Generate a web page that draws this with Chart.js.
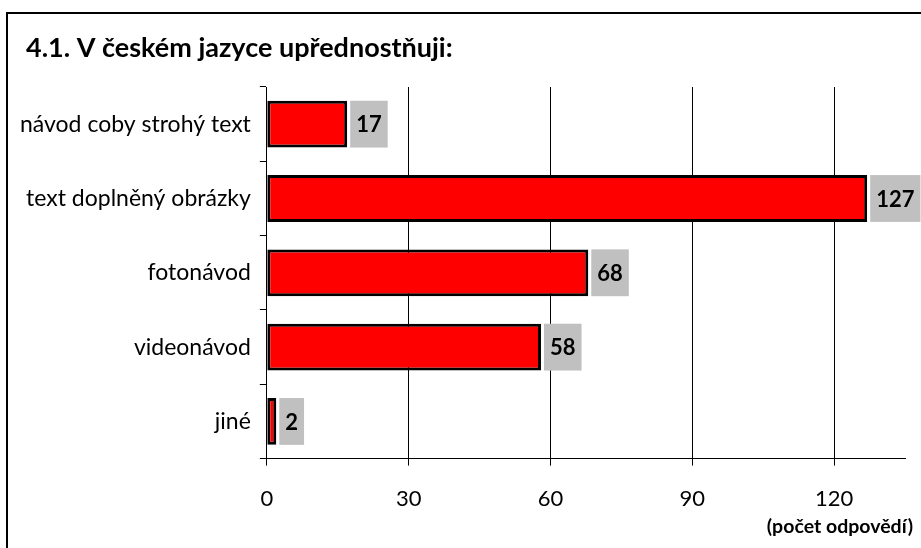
<!DOCTYPE html>
<html>
<head>
<meta charset="utf-8">
<script src="https://cdn.jsdelivr.net/npm/chart.js@4/dist/chart.umd.min.js"></script>
<style>
  html, body { margin: 0; padding: 0; background: #fff; }
  #wrap { width: 921px; height: 548px; position: relative; }
</style>
</head>
<body>
<div id="wrap"><canvas id="chart"></canvas></div>
<script>
// data
const categories = ['návod coby strohý text', 'text doplněný obrázky', 'fotonávod', 'videonávod', 'jiné'];
const answers = [17, 127, 68, 58, 2];
const xTicks = [0, 30, 60, 90, 120];

const titleText = '4.1. V českém jazyce upřednostňuji:';
const axisTitle = '(počet odpovědí)';
const fontFamily = 'Lato, "Open Sans", sans-serif';

// outer frame (only left and top edges are visible), chart title, axis title
const framePlugin = {
  id: 'frame',
  beforeDraw(chart) {
    const ctx = chart.ctx;
    ctx.save();
    ctx.fillStyle = '#fff';
    ctx.fillRect(0, 0, chart.width, chart.height);
    ctx.strokeStyle = '#000';
    ctx.lineWidth = 2;
    ctx.strokeRect(7, 13, chart.width + 20, chart.height + 20);
    ctx.fillStyle = '#000';
    ctx.textBaseline = 'middle';
    ctx.textAlign = 'left';
    ctx.font = 'bold 27px ' + fontFamily;
    ctx.fillText(titleText, 26, 48);
    ctx.textAlign = 'right';
    ctx.font = 'bold 19.5px ' + fontFamily;
    ctx.fillText(axisTitle, 913, 527);
    ctx.restore();
  }
};

// grey value boxes next to the bars
const valueBoxes = {
  id: 'valueBoxes',
  afterDatasetsDraw(chart) {
    const ctx = chart.ctx;
    const meta = chart.getDatasetMeta(0);
    ctx.save();
    ctx.font = 'bold 22px ' + fontFamily;
    ctx.textBaseline = 'middle';
    ctx.textAlign = 'left';
    meta.data.forEach((bar, i) => {
      const label = String(answers[i]);
      const w = ctx.measureText(label).width + 12;
      const h = bar.height;
      const x = bar.x + 3;
      ctx.fillStyle = '#c0c0c0';
      ctx.fillRect(x, bar.y - h / 2, w, h);
      ctx.fillStyle = '#000';
      ctx.fillText(label, x + 6, bar.y + 1);
    });
    ctx.restore();
  }
};

new Chart(document.getElementById('chart'), {
  type: 'bar',
  data: {
    labels: categories,
    datasets: [{
      data: answers,
      backgroundColor: '#ff0000',
      borderColor: '#000',
      borderWidth: 3,
      borderSkipped: false,
      barPercentage: 0.63,
      categoryPercentage: 1
    }]
  },
  options: {
    indexAxis: 'y',
    responsive: true,
    maintainAspectRatio: false,
    animation: false,
    layout: { padding: { left: 11, right: 16, top: 87, bottom: 16 } },
    plugins: {
      legend: { display: false },
      tooltip: { enabled: false },
      title: { display: false }
    },
    scales: {
      x: {
        min: 0,
        max: 135,
        afterBuildTicks(scale) {
          scale.ticks = xTicks.map(v => ({ value: v }));
        },
        ticks: {
          color: '#000',
          font: { family: fontFamily, size: 22 },
          padding: 20
        },
        grid: {
          color: '#000',
          lineWidth: 1,
          tickLength: 7,
          drawOnChartArea: true
        },
        border: { color: '#000', width: 1 }
      },
      y: {
        ticks: {
          color: '#000',
          font: { family: fontFamily, size: 23 },
          padding: 9
        },
        grid: {
          color: '#000',
          drawOnChartArea: false,
          tickLength: 7,
          offset: true
        },
        border: { color: '#000', width: 1 }
      }
    }
  },
  plugins: [framePlugin, valueBoxes]
});
</script>
</body>
</html>
